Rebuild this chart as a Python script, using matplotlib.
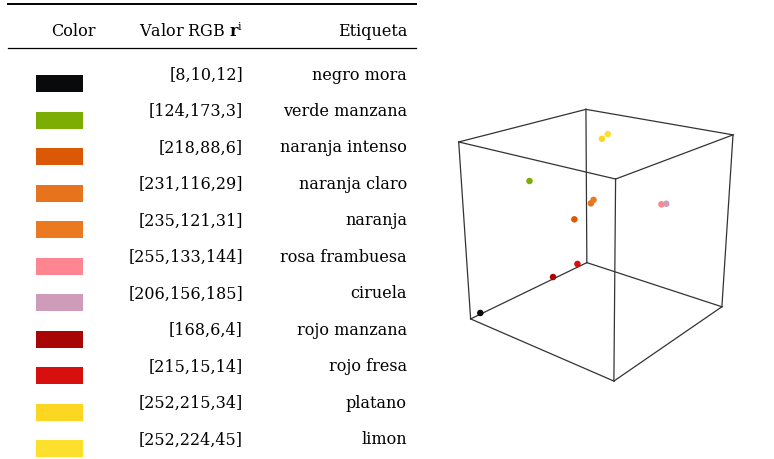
import matplotlib
matplotlib.use("Agg")
import matplotlib.pyplot as plt
from matplotlib.patches import Rectangle
import numpy as np

plt.rcParams["font.family"] = "DejaVu Serif"
plt.rcParams["mathtext.fontset"] = "dejavuserif"

labels = ["negro mora", "verde manzana", "naranja intenso", "naranja claro",
          "naranja", "rosa frambuesa", "ciruela", "rojo manzana",
          "rojo fresa", "platano", "limon"]
reds = [8, 124, 218, 231, 235, 255, 206, 168, 215, 252, 252]
greens = [10, 173, 88, 116, 121, 133, 156, 6, 15, 215, 224]
blues = [12, 3, 6, 29, 31, 144, 185, 4, 14, 34, 45]


def draw_table(ax):
    ax.set_xlim(0, 774)
    ax.set_ylim(460, 0)
    ax.axis("off")
    fs = 11.5
    ax.plot([8, 416], [5, 5], color="black", lw=1.4)
    ax.plot([8, 416], [49, 49], color="black", lw=0.9)
    ax.text(73, 32, "Color", ha="center", va="center", fontsize=fs)
    ax.text(243, 32, r"Valor RGB $\mathbf{r}^{\mathrm{i}}$", ha="right",
            va="center", fontsize=fs)
    ax.text(407, 32, "Etiqueta", ha="right", va="center", fontsize=fs)
    for i, lab in enumerate(labels):
        y = 75 + i * 36.5
        c = (reds[i] / 255, greens[i] / 255, blues[i] / 255)
        ax.add_patch(Rectangle((36, y + 1), 47, 17, color=c, lw=0))
        ax.text(243, y, f"[{reds[i]},{greens[i]},{blues[i]}]", ha="right",
                va="center", fontsize=fs)
        ax.text(407, y, lab, ha="right", va="center", fontsize=fs)


def draw_cube(ax):
    ax.set_proj_type("persp", focal_length=0.45)
    ax.view_init(elev=21, azim=-51)
    ax.set_box_aspect((1, 1, 1))
    ax.set_xlim(0, 255)
    ax.set_ylim(0, 255)
    ax.set_zlim(0, 255)
    ax.set_axis_off()
    lo, hi = 0, 255
    corners = [(a, b) for a in (lo, hi) for b in (lo, hi)]
    for a, b in corners:
        ax.plot([lo, hi], [a, a], [b, b], color="#333333", lw=0.9)
        ax.plot([a, a], [lo, hi], [b, b], color="#333333", lw=0.9)
        ax.plot([a, a], [b, b], [lo, hi], color="#333333", lw=0.9)
    cols = [(r / 255, g / 255, b / 255) for r, g, b in zip(reds, greens, blues)]
    # x = blue, y = red, z = green
    ax.scatter(blues, reds, greens, c=cols, s=22, depthshade=False,
               edgecolors="none")


fig = plt.figure(figsize=(7.74, 4.6), dpi=100)
ax = fig.add_axes([0, 0, 1, 1])
draw_table(ax)
ax3 = fig.add_axes([0.565, 0.09, 0.405, 0.8], projection="3d")
draw_cube(ax3)
fig.savefig("out.png", dpi=100)
